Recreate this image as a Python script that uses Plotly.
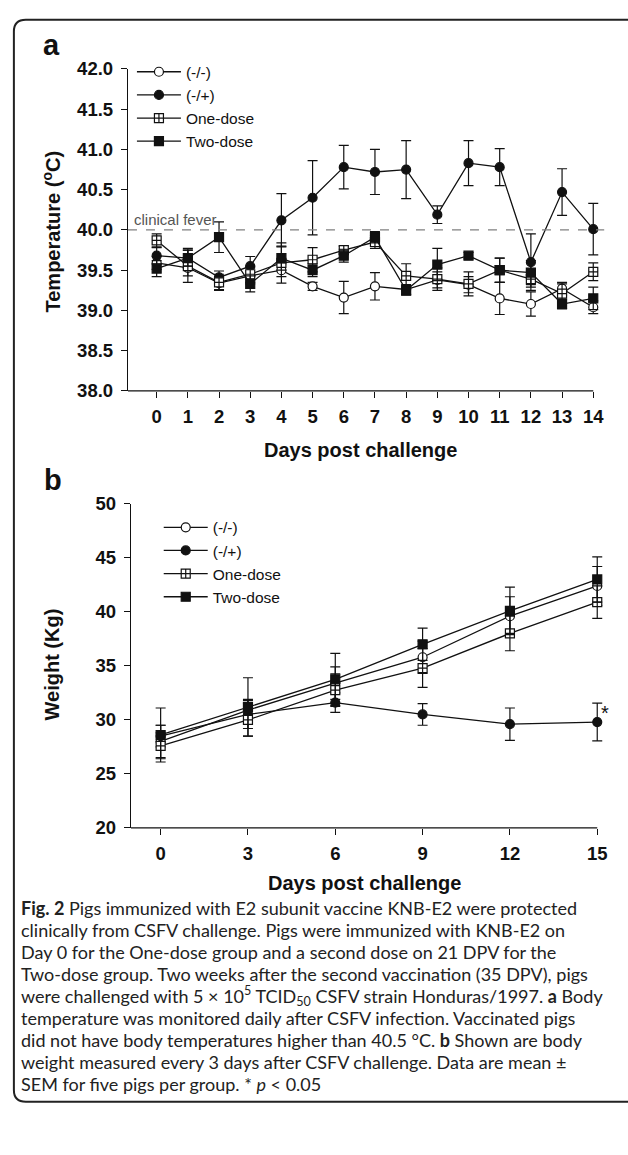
import plotly.graph_objects as go

# ---------------- data ----------------
days_a = list(range(15))
temp_neg_neg = [39.59, 39.53, 39.34, 39.43, 39.50, 39.30, 39.16, 39.30, 39.26, 39.38, 39.32, 39.15, 39.08, 39.27, 39.04]
temp_neg_neg_err = [0.08, 0.10, 0.08, 0.10, 0.08, 0.05, 0.20, 0.17, 0.06, 0.10, 0.10, 0.20, 0.15, 0.08, 0.08]
temp_neg_pos = [39.68, 39.65, 39.41, 39.55, 40.12, 40.40, 40.78, 40.72, 40.75, 40.19, 40.83, 40.78, 39.60, 40.47, 40.01]
temp_neg_pos_err = [0.10, 0.12, 0.08, 0.12, 0.33, 0.46, 0.27, 0.28, 0.36, 0.11, 0.28, 0.23, 0.35, 0.29, 0.32]
temp_one = [39.87, 39.55, 39.35, 39.45, 39.59, 39.63, 39.75, 39.85, 39.43, 39.39, 39.33, 39.50, 39.39, 39.21, 39.48]
temp_one_err = [0.08, 0.20, 0.10, 0.10, 0.25, 0.15, 0.05, 0.08, 0.15, 0.14, 0.15, 0.15, 0.10, 0.12, 0.11]
temp_two = [39.52, 39.65, 39.91, 39.33, 39.65, 39.50, 39.68, 39.91, 39.25, 39.57, 39.68, 39.50, 39.47, 39.08, 39.15]
temp_two_err = [0.10, 0.10, 0.19, 0.10, 0.15, 0.08, 0.08, 0.07, 0.06, 0.20, 0.04, 0.15, 0.15, 0.06, 0.14]
fever_threshold = 40.0

days_b = [0, 3, 6, 9, 12, 15]
wt_neg_neg = [28.0, 30.9, 33.4, 35.8, 39.6, 42.4]
wt_neg_neg_err = [1.5, 1.0, 1.5, 1.5, 1.8, 1.8]
wt_neg_pos = [28.5, 30.5, 31.6, 30.5, 29.6, 29.8]
wt_neg_pos_err = [1.0, 1.3, 0.9, 1.0, 1.5, 1.75]
wt_one = [27.6, 30.0, 32.75, 34.8, 38.0, 40.9]
wt_one_err = [1.2, 1.5, 1.5, 1.8, 1.6, 1.5]
wt_two = [28.6, 31.2, 33.75, 37.0, 40.1, 43.0]
wt_two_err = [2.5, 2.7, 2.4, 1.5, 2.2, 2.1]

group_names = ["(-/-)", "(-/+)", "One-dose", "Two-dose"]
temp_ticks = [38.0, 38.5, 39.0, 39.5, 40.0, 40.5, 41.0, 41.5, 42.0]
wt_ticks = [20, 25, 30, 35, 40, 45, 50]

caption_lines = [
    "<b>Fig. 2</b> Pigs immunized with E2 subunit vaccine KNB-E2 were protected",
    "clinically from CSFV challenge. Pigs were immunized with KNB-E2 on",
    "Day 0 for the One-dose group and a second dose on 21 DPV for the",
    "Two-dose group. Two weeks after the second vaccination (35 DPV), pigs",
    "were challenged with 5 × 10<sup>5</sup> TCID<sub>50</sub> CSFV strain Honduras/1997. <b>a</b> Body",
    "temperature was monitored daily after CSFV infection. Vaccinated pigs",
    "did not have body temperatures higher than 40.5 °C. <b>b</b> Shown are body",
    "weight measured every 3 days after CSFV challenge. Data are mean ±",
    "SEM for five pigs per group. * <i>p</i> &lt; 0.05",
]

# ---------------- styling ----------------
W, H = 628, 1155
def px(x):
    return x / W
def py(y):
    return 1 - y / H

FONT = "Arial"
BLACK = "#111111"
styles = {
    "(-/-)": dict(symbol="circle", color="white"),
    "(-/+)": dict(symbol="circle", color=BLACK),
    "One-dose": dict(symbol="square-cross", color="white"),
    "Two-dose": dict(symbol="square", color=BLACK),
}

fig = go.Figure()

temp_series = [(temp_neg_neg, temp_neg_neg_err), (temp_neg_pos, temp_neg_pos_err),
               (temp_one, temp_one_err), (temp_two, temp_two_err)]
wt_series = [(wt_neg_neg, wt_neg_neg_err), (wt_neg_pos, wt_neg_pos_err),
             (wt_one, wt_one_err), (wt_two, wt_two_err)]

for name, (vals, errs) in zip(group_names, temp_series):
    st = styles[name]
    fig.add_trace(go.Scatter(
        x=days_a, y=vals, name=name, mode="lines+markers",
        line=dict(color=BLACK, width=1.3),
        marker=dict(symbol=st["symbol"], color=st["color"], size=9,
                    line=dict(color=BLACK, width=1.2)),
        error_y=dict(type="data", array=errs, color=BLACK, thickness=1.2, width=5),
        xaxis="x", yaxis="y", legend="legend", cliponaxis=False,
    ))

for name, (vals, errs) in zip(group_names, wt_series):
    st = styles[name]
    fig.add_trace(go.Scatter(
        x=days_b, y=vals, name=name, mode="lines+markers",
        line=dict(color=BLACK, width=1.3),
        marker=dict(symbol=st["symbol"], color=st["color"], size=9,
                    line=dict(color=BLACK, width=1.2)),
        error_y=dict(type="data", array=errs, color=BLACK, thickness=1.2, width=5),
        xaxis="x2", yaxis="y2", legend="legend2", cliponaxis=False,
    ))

tickfont = dict(family=FONT, size=18.5, color=BLACK, weight="bold")
axis_common = dict(linecolor=BLACK, linewidth=1.3, ticks="outside",
                   ticklen=6, tickwidth=1.3, tickcolor=BLACK, showgrid=False,
                   zeroline=False, tickfont=tickfont)

# x ranges extended slightly past the last day so end error-bar caps are not clipped
fig.update_layout(
    width=W, height=H, margin=dict(l=0, r=0, t=0, b=0),
    paper_bgcolor="white", plot_bgcolor="white",
    font=dict(family=FONT, color=BLACK),
    xaxis=dict(domain=[px(129), px(604.3)], range=[-0.92, 14.2], tickmode="array",
               tickvals=days_a, anchor="y", ticklabelstandoff=3, showline=False,
               **axis_common),
    yaxis=dict(domain=[py(387), py(59)], range=[38, 42], tickmode="array",
               tickvals=temp_ticks, tickformat=".1f", anchor="x", showline=True,
               ticklabelstandoff=4, **axis_common),
    xaxis2=dict(domain=[px(132), px(607.9)], range=[-1.02, 15.2], tickmode="array",
                tickvals=days_b, anchor="y2", ticklabelstandoff=3, showline=False,
                **axis_common),
    yaxis2=dict(domain=[py(832), py(502)], range=[20, 50], tickmode="array",
                tickvals=wt_ticks, anchor="x2", showline=True,
                ticklabelstandoff=4, **axis_common),
    legend=dict(x=px(133), y=py(45), xanchor="left", yanchor="top",
                bgcolor="rgba(0,0,0,0)", font=dict(family=FONT, size=15.5, color=BLACK),
                tracegroupgap=0, itemwidth=44),
    legend2=dict(x=px(160), y=py(509), xanchor="left", yanchor="top",
                 bgcolor="rgba(0,0,0,0)", font=dict(family=FONT, size=15.5, color=BLACK),
                 tracegroupgap=0, itemwidth=44),
    showlegend=True,
)

# x-axis baselines ending at the last tick
fig.add_shape(type="line", xref="x", yref="y domain", x0=-0.92, x1=days_a[-1], y0=0, y1=0,
              line=dict(color=BLACK, width=1.3))
fig.add_shape(type="line", xref="x2", yref="y2 domain", x0=-1.02, x1=days_b[-1], y0=0, y1=0,
              line=dict(color=BLACK, width=1.3))

# clinical fever reference line
fig.add_shape(type="line", xref="x domain", yref="y", x0=0, x1=1.01,
              y0=fever_threshold, y1=fever_threshold,
              line=dict(color="#808080", width=1.3, dash="dash"))

annotations = [
    dict(text="clinical fever", xref="x domain", yref="y", x=0.008, y=fever_threshold,
         xanchor="left", yanchor="bottom", showarrow=False,
         font=dict(family=FONT, size=15, color="#555555")),
    dict(text="<b>a</b>", xref="paper", yref="paper", x=px(52), y=py(35),
         xanchor="center", yanchor="middle", showarrow=False,
         font=dict(family=FONT, size=29, color=BLACK)),
    dict(text="<b>b</b>", xref="paper", yref="paper", x=px(53), y=py(478),
         xanchor="center", yanchor="middle", showarrow=False,
         font=dict(family=FONT, size=29, color=BLACK)),
    dict(text="<b>Temperature (<sup>o</sup>C)</b>", xref="paper", yref="paper",
         x=px(52), y=py(225), textangle=-90, xanchor="center", yanchor="middle",
         showarrow=False, font=dict(family=FONT, size=20, color=BLACK)),
    dict(text="<b>Weight (Kg)</b>", xref="paper", yref="paper",
         x=px(52), y=py(666), textangle=-90, xanchor="center", yanchor="middle",
         showarrow=False, font=dict(family=FONT, size=20, color=BLACK)),
    dict(text="<b>Days post challenge</b>", xref="paper", yref="paper",
         x=px(363.5), y=py(447), xanchor="center", yanchor="middle", showarrow=False,
         font=dict(family=FONT, size=20, color=BLACK)),
    dict(text="<b>Days post challenge</b>", xref="paper", yref="paper",
         x=px(367), y=py(888), xanchor="center", yanchor="middle", showarrow=False,
         font=dict(family=FONT, size=20, color=BLACK)),
    dict(text="*", xref="x2", yref="y2", x=days_b[-1], y=wt_neg_pos[-1],
         xanchor="left", yanchor="bottom", xshift=2, yshift=-4, showarrow=False,
         font=dict(family=FONT, size=20, color=BLACK)),
]

for i, line in enumerate(caption_lines):
    annotations.append(dict(
        text=line, xref="paper", yref="paper", x=px(19), y=py(914 + 22.3 * i),
        xanchor="left", yanchor="middle", showarrow=False, align="left",
        font=dict(family="Lato", size=18, color="#222222")))

fig.update_layout(annotations=annotations)

# rounded border box (right side runs off the page)
x0, x1, y0, y1, r = 14, 640, 9, 1111, 12
path = (f"M {px(x1)},{py(y0)} L {px(x0 + r)},{py(y0)} "
        f"Q {px(x0)},{py(y0)} {px(x0)},{py(y0 + r)} "
        f"L {px(x0)},{py(y1 - r)} Q {px(x0)},{py(y1)} {px(x0 + r)},{py(y1)} "
        f"L {px(x1)},{py(y1)}")
fig.add_shape(type="path", xref="paper", yref="paper", path=path,
              line=dict(color="#222222", width=2))

fig.write_html("out.html", config={"displayModeBar": False},
               post_script="document.body.style.margin='0px';document.body.style.overflow='hidden';")
